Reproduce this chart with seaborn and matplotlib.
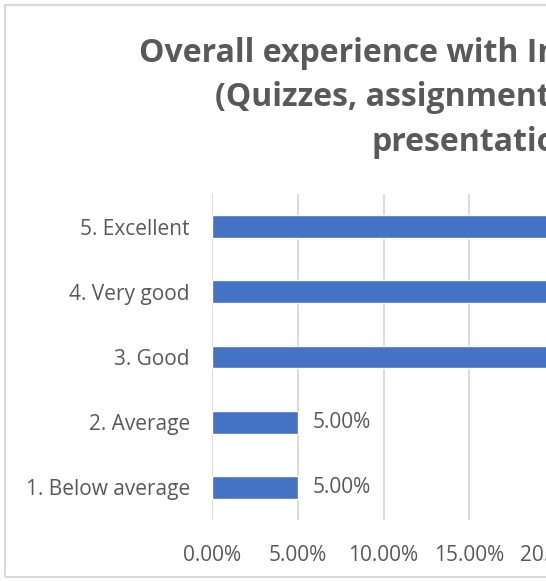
import matplotlib
matplotlib.use("Agg")
import matplotlib.pyplot as plt
import seaborn as sns
import pandas as pd
from matplotlib.patches import Rectangle
from matplotlib.ticker import FuncFormatter

categories = ["5. Excellent", "4. Very good", "3. Good", "2. Average", "1. Below average"]
values = [35.0, 30.0, 25.0, 5.0, 5.0]
title_lines = ["Overall experience with Internal assessment",
               "(Quizzes, assignments, projects and",
               "presentations)"]
xticks = [0, 5, 10, 15, 20]

sns.set_theme(style="white")
plt.rcParams['font.family'] = ['Open Sans', 'DejaVu Sans']

W, H = 546, 581
fig = plt.figure(figsize=(W / 100, H / 100), dpi=100)

# chart border (light gray), continuing past the cropped right edge
fig.patches.append(Rectangle((5 / W, 1 - 577 / H), 2.0, (577 - 5) / H,
                             transform=fig.transFigure, fill=False,
                             edgecolor="#d9d9d9", linewidth=1.5))

px_per_pct = 85.8 / 5
x0 = 212
xmax = 40
ax = fig.add_axes([x0 / W, 1 - 520 / H, xmax * px_per_pct / W, (520 - 194) / H])

df = pd.DataFrame({"category": categories, "value": values})
sns.barplot(data=df, x="value", y="category", orient="h", color="#4472C4",
            saturation=1, width=0.35, ax=ax)

ax.set_xlim(0, xmax)
ax.set_ylim(4.5, -0.5)
ax.set_xticks(xticks)
ax.xaxis.set_major_formatter(FuncFormatter(lambda v, p: f"{v:.2f}%"))
ax.grid(axis="x", color="#d9d9d9", linewidth=1.3)
ax.set_axisbelow(True)
for s in ax.spines.values():
    s.set_visible(False)
ax.set_xlabel("")
ax.set_ylabel("")
ax.tick_params(axis="x", colors="#595959", labelsize=15, pad=18, length=0)
ax.tick_params(axis="y", colors="#595959", labelsize=15, pad=16, length=0)

visible_max = (W - x0) / px_per_pct
for i, v in enumerate(values):
    if v + 5 < visible_max:
        ax.text(v + 15 / px_per_pct, i, f"{v:.2f}%", va="center", ha="left",
                color="#595959", fontsize=15)

title_x = [139, 215, 372]
title_y = [54, 98, 142]
for t, x, y in zip(title_lines, title_x, title_y):
    fig.text(x / W, 1 - y / H, t, ha="left", va="center", fontsize=23,
             fontweight="bold", color="#595959")

fig.savefig("out.png", dpi=100)
